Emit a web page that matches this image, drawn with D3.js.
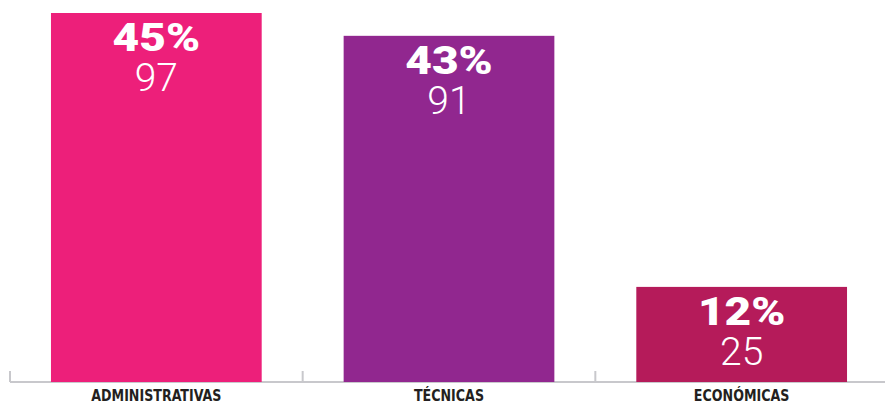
<html>
<head>
<meta charset="utf-8">
<script src="https://d3js.org/d3.v7.min.js"></script>
<style>
  body { margin: 0; background: #fff; }
  svg { display: block; }
</style>
</head>
<body>
<svg id="svg" width="885" height="404"></svg>
<script>
// data
var categories = ["ADMINISTRATIVAS", "TÉCNICAS", "ECONÓMICAS"];
var counts = [97, 91, 25];
var percents = ["45%", "43%", "12%"];
var colors = ["#ED1F7A", "#91278F", "#B51B5A"];

var svg = d3.select("#svg");
var baseY = 382;

var x = d3.scaleBand().domain(categories).range([10, 888])
    .paddingInner(0.28).paddingOuter(0.14);
var y = d3.scaleLinear().domain([0, 97]).range([baseY, 13]);

// axis baseline
svg.append("line")
    .attr("x1", 10).attr("x2", 885)
    .attr("y1", baseY).attr("y2", baseY)
    .attr("stroke", "#c8c8cc").attr("stroke-width", 2);

// tick marks at band boundaries
var step = x.step();
var tickXs = d3.range(0, categories.length + 1).map(function(i) { return 10 + i * step; });
svg.selectAll(".tick").data(tickXs).enter().append("line")
    .attr("x1", function(d) { return d; }).attr("x2", function(d) { return d; })
    .attr("y1", baseY - 11).attr("y2", baseY)
    .attr("stroke", "#c8c8cc").attr("stroke-width", 2);

var g = svg.selectAll(".bar").data(categories).enter().append("g");

g.append("rect")
    .attr("x", function(d) { return x(d); })
    .attr("width", x.bandwidth())
    .attr("y", function(d, i) { return y(counts[i]); })
    .attr("height", function(d, i) { return baseY - y(counts[i]); })
    .attr("fill", function(d, i) { return colors[i]; });

function cx(d) { return x(d) + x.bandwidth() / 2; }

// percentage, a bit wider than Roboto to look like the squared display face
g.append("text")
    .attr("transform", function(d, i) {
        return "translate(" + cx(d) + "," + (y(counts[i]) + 38) + ") scale(1.18,1)";
    })
    .attr("text-anchor", "middle")
    .attr("fill", "#fff")
    .style("font-family", "Roboto, 'DejaVu Sans', sans-serif")
    .style("font-weight", 900)
    .style("font-size", "39px")
    .text(function(d, i) { return percents[i]; });

g.append("text")
    .attr("x", cx)
    .attr("y", function(d, i) { return y(counts[i]) + 78; })
    .attr("text-anchor", "middle")
    .attr("fill", "#fff")
    .style("font-family", "Roboto, 'DejaVu Sans', sans-serif")
    .style("font-weight", 300)
    .style("font-size", "39px")
    .text(function(d, i) { return counts[i]; });

g.append("text")
    .attr("transform", function(d) { return "translate(" + cx(d) + ",401) scale(0.88,1)"; })
    .attr("text-anchor", "middle")
    .attr("fill", "#231f20")
    .style("font-family", "'Liberation Sans Narrow', 'DejaVu Sans Condensed', sans-serif")
    .style("font-weight", "bold")
    .style("font-size", "16px")
    .text(function(d) { return d; });
</script>
</body>
</html>
